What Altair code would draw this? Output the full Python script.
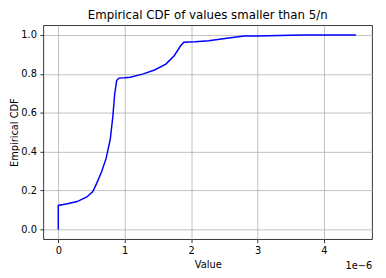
import altair as alt
import pandas as pd

# x values in units of 1e-6
x_micro = [0.0, 0.0, 0.137, 0.284, 0.43, 0.52, 0.578, 0.651, 0.719, 0.783, 0.822, 0.85,
           0.88, 0.915, 1.0, 1.085, 1.28, 1.45, 1.62, 1.745, 1.84, 1.89, 2.06, 2.265,
           2.51, 2.80, 3.0, 3.49, 3.74, 4.48]
cdf = [0.0, 0.1235, 0.132, 0.1435, 0.167, 0.195, 0.237, 0.295, 0.364, 0.464, 0.582, 0.699,
       0.767, 0.778, 0.780, 0.783, 0.80, 0.82, 0.85, 0.893, 0.943, 0.963, 0.965, 0.97,
       0.982, 0.995, 0.995, 0.998, 1.0, 1.0]
x_ticks = [0, 1e-6, 2e-6, 3e-6, 4e-6]
y_ticks = [0.0, 0.2, 0.4, 0.6, 0.8, 1.0]

df = pd.DataFrame({"value": [v * 1e-6 for v in x_micro], "cdf": cdf, "idx": list(range(len(cdf)))})

W, H = 335, 218
font = "DejaVu Sans"

line = alt.Chart(df).mark_line(color="#0000ff", strokeWidth=1.5).encode(
    x=alt.X("value:Q", scale=alt.Scale(domain=[-0.225e-6, 4.725e-6], nice=False, zero=False),
            axis=alt.Axis(values=x_ticks, labelExpr="format(datum.value*1e6, 'd')", title="Value",
                          titlePadding=4)),
    y=alt.Y("cdf:Q", scale=alt.Scale(domain=[-0.05, 1.05], nice=False, zero=False),
            axis=alt.Axis(values=y_ticks, format=".1f", title="Empirical CDF", titlePadding=1)),
    order="idx:Q",
)

offset = alt.Chart(pd.DataFrame({"t": ["1e\u22126"]})).mark_text(
    align="right", baseline="middle", font=font, fontSize=10, color="black"
).encode(x=alt.value(W), y=alt.value(H + 27), text="t:N")

chart = alt.layer(line, offset).properties(
    width=W, height=H,
    title=alt.TitleParams("Empirical CDF of values smaller than 5/n", font=font, fontSize=12,
                          fontWeight="normal", color="black", offset=3),
    autosize=alt.AutoSizeParams(type="none"),
    padding={"left": 36, "top": 15, "right": 6, "bottom": 37},
).configure_view(stroke="black", strokeWidth=0.8).configure_axis(
    labelFont=font, labelFontSize=10, labelColor="black", titleFont=font, titleFontSize=10,
    titleColor="black", titleFontWeight="normal", tickColor="black", tickSize=3.5, tickWidth=0.8,
    labelPadding=3.5, domain=False, gridColor="#b0b0b0", gridWidth=0.8,
)

chart.save("out.html", embed_options={"renderer": "svg", "actions": False})
